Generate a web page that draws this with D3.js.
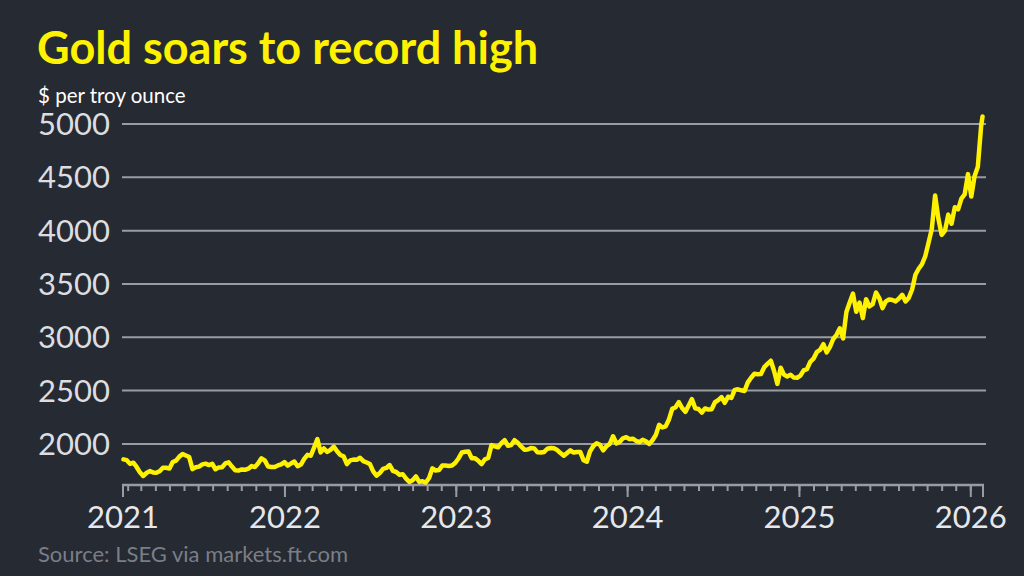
<!DOCTYPE html>
<html>
<head>
<meta charset="utf-8">
<script src="https://cdn.jsdelivr.net/npm/d3@7"></script>
<style>
  html, body { margin: 0; padding: 0; background: #262a33; }
  svg { display: block; }
</style>
</head>
<body>
<svg id="chart" width="1024" height="576"></svg>
<script>
// ---- Data (weekly closes, $ per troy ounce) ----
const firstWeek = "2021-01-22";
const prices2021 = [1855,1848,1813,1824,1784,1734,1700,1727,1745,1733,1729,1744,1777,1777,1769,1831,1844,1881,1905,1891,1877,1764,1781,1787,1808,1815,1802,1814,1763,1780,1781,1817,1827,1788,1754,1750,1761,1757,1768,1792,1783,1818,1865,1846,1788,1783,1783,1798,1808,1829];
const prices2022 = [1797,1817,1835,1791,1807,1859,1898,1889,1966,2045,1921,1958,1925,1945,1975,1932,1896,1883,1811,1846,1853,1851,1871,1839,1826,1811,1742,1703,1727,1766,1775,1802,1747,1737,1712,1716,1675,1644,1660,1695,1644,1650,1638,1681,1771,1751,1755,1797,1797,1793,1798,1824];
const prices2023 = [1866,1920,1926,1929,1865,1865,1842,1811,1856,1868,1989,1978,1969,2007,2035,1983,1990,2035,2011,1977,1946,1948,1961,1958,1921,1919,1925,1955,1962,1959,1943,1914,1889,1915,1940,1919,1924,1925,1848,1833,1932,1981,2006,1992,1940,1980,2001,2072,2004,2019,2053,2063];
const prices2024 = [2045,2049,2029,2018,2039,2024,2000,2035,2083,2179,2155,2165,2230,2329,2344,2392,2337,2301,2360,2420,2334,2327,2294,2333,2322,2326,2391,2411,2440,2386,2443,2431,2507,2512,2503,2497,2577,2621,2658,2653,2656,2720,2750,2780,2684,2563,2715,2650,2633,2648,2622,2621];
const prices2025 = [2640,2690,2702,2770,2800,2861,2883,2936,2858,2910,2984,3023,3084,2990,3237,3327,3410,3240,3325,3180,3357,3289,3310,3420,3368,3274,3337,3355,3350,3337,3363,3398,3336,3371,3448,3586,3643,3685,3760,3886,4018,4330,4112,3960,4000,4150,4065,4220,4200,4300,4340,4530];
const prices2026 = [4320,4510,4600,4980];
const lastDate = "2026-01-26";
const lastPrice = 5070;

const yTicks = [2000, 2500, 3000, 3500, 4000, 4500, 5000];
const yearTicks = ["2022-01-01","2023-01-01","2024-01-01","2025-01-01","2026-01-01"];
const xDomain = ["2021-01-21", "2026-01-27"];
const startLabel = "2021";

const titleText = "Gold soars to record high";
const subtitleText = "$ per troy ounce";
const sourceText = "Source: LSEG via markets.ft.com";

// ---- Build series ----
const parse = d3.utcParse("%Y-%m-%d");
const weekly = [].concat(prices2021, prices2022, prices2023, prices2024, prices2025, prices2026);
const start = parse(firstWeek);
const series = weekly.map((v, i) => ({ date: d3.utcDay.offset(start, 7 * i), value: v }));
series.push({ date: parse(lastDate), value: lastPrice });

// ---- Layout ----
const svg = d3.select("#chart");
const W = 1024, H = 576;
svg.append("rect").attr("width", W).attr("height", H).attr("fill", "#262a33");

const x = d3.scaleUtc().domain(xDomain.map(parse)).range([123, 983]);
const y = d3.scaleLinear().domain([1615, 5000]).range([485, 124]);

const FONT = "Lato, 'Open Sans', sans-serif";

// title
svg.append("text").attr("x", 37).attr("y", 64)
  .attr("fill", "#fff200").attr("font-family", FONT).attr("font-weight", 700)
  .attr("font-size", 45).text(titleText);
svg.append("text").attr("x", 38).attr("y", 103)
  .attr("fill", "#ffffff").attr("font-family", FONT)
  .attr("font-size", 20.5).text(subtitleText);

// gridlines
svg.append("g").selectAll("line").data(yTicks).join("line")
  .attr("x1", 122).attr("x2", 986)
  .attr("y1", d => y(d)).attr("y2", d => y(d))
  .attr("stroke", "#9a9ca3").attr("stroke-width", 2);

// y labels
svg.append("g").selectAll("text").data(yTicks).join("text")
  .attr("x", 38).attr("y", d => y(d))
  .attr("dy", "0.36em")
  .attr("fill", "#dcdde0").attr("font-family", FONT)
  .attr("font-size", 31).text(d => d);

// x axis
const axisG = svg.append("g").attr("transform", "translate(0,485)");
const monthTicks = d3.utcMonth.range(parse(xDomain[0]), parse(xDomain[1]));
axisG.append("line").attr("x1", 122).attr("x2", 984).attr("y1", 0).attr("y2", 0)
  .attr("stroke", "#9a9ca3").attr("stroke-width", 2.5);
axisG.selectAll("line.minor").data(monthTicks).join("line").attr("class", "minor")
  .attr("x1", d => x(d)).attr("x2", d => x(d)).attr("y1", 0).attr("y2", 6)
  .attr("stroke", "#9a9ca3").attr("stroke-width", 2);
const majors = [parse(xDomain[0])].concat(yearTicks.map(parse), [parse(xDomain[1])]);
axisG.selectAll("line.major").data(majors).join("line").attr("class", "major")
  .attr("x1", d => x(d)).attr("x2", d => x(d)).attr("y1", 0).attr("y2", 12)
  .attr("stroke", "#9a9ca3").attr("stroke-width", 2);
const labels = [{ d: parse(xDomain[0]), t: startLabel }]
  .concat(yearTicks.map(s => ({ d: parse(s), t: d3.utcFormat("%Y")(parse(s)) })));
axisG.selectAll("text").data(labels).join("text")
  .attr("x", d => x(d.d)).attr("y", 43)
  .attr("text-anchor", "middle")
  .attr("fill", "#e6e7ea").attr("font-family", FONT)
  .attr("font-size", 31).text(d => d.t);

// line
const line = d3.line().x(d => x(d.date)).y(d => y(d.value)).curve(d3.curveLinear);
svg.append("path").datum(series)
  .attr("d", line).attr("fill", "none")
  .attr("stroke", "#fff200").attr("stroke-width", 4.5)
  .attr("stroke-linejoin", "round").attr("stroke-linecap", "round");

// source
svg.append("text").attr("x", 38).attr("y", 562)
  .attr("fill", "#7b7e86").attr("font-family", FONT)
  .attr("font-size", 22).text(sourceText);
</script>
</body>
</html>
